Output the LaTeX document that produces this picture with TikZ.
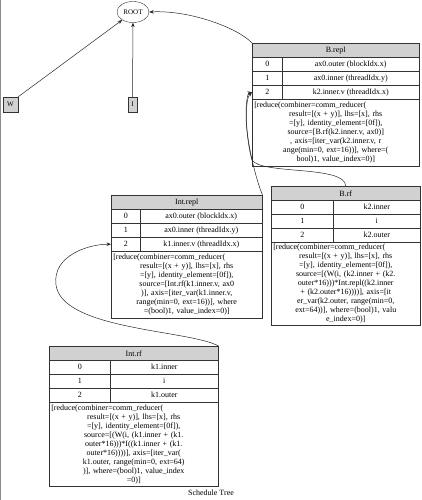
\documentclass[tikz,border=0pt]{standalone}
\usepackage{fontspec}
\setmainfont{Liberation Serif}
\usetikzlibrary{arrows.meta,shapes.geometric}
\newcommand\firstln[1]{\hbox to \hsize{#1\hfil}}
\begin{document}
\begin{tikzpicture}[x=1pt,y=-1pt,
  every node/.style={font=\fontsize{8}{9}\selectfont},
  frame/.style={draw=black!80, line width=0.5pt, inner sep=0pt, anchor=north west},
  hdr/.style={frame, fill=black!18, minimum height=14pt},
  cell/.style={frame, minimum height=14pt},
  txt/.style={frame, align=center, inner xsep=2pt, inner ysep=2pt},
  leaf/.style={draw=black!80, fill=black!18, inner sep=0pt, minimum height=15pt, font=\fontsize{7}{8}\selectfont},
  edge/.style={draw=black!85, line width=0.5pt, -{Stealth[length=4.5pt,width=3.5pt]}}]
\useasboundingbox (0,0) rectangle (422,500);
\draw[black!45, line width=1pt] (0.5,0) -- (0.5,500);

% root and leaves
\node[draw=black!80, ellipse, minimum width=32pt, minimum height=21pt, inner sep=0pt, font=\fontsize{7}{8}\selectfont] (root) at (133,12) {ROOT};
\node[leaf, minimum width=15pt] (w) at (10.5,104.5) {W};
\node[leaf, minimum width=9pt] (i) at (132.5,104.5) {I};

% B.repl
\node[hdr, minimum width=167pt] (brepl-h) at (252,43) {B.repl};
\node[cell, minimum width=30pt] (brepl-i0) at (252,57) {0};
\node[cell, minimum width=137pt] (brepl-r0) at (282,57) {ax0.outer (blockIdx.x)};
\node[cell, minimum width=30pt] (brepl-i1) at (252,71) {1};
\node[cell, minimum width=137pt] (brepl-r1) at (282,71) {ax0.inner (threadIdx.y)};
\node[cell, minimum width=30pt] (brepl-i2) at (252,85) {2};
\node[cell, minimum width=137pt] (brepl-r2) at (282,85) {k2.inner.v (threadIdx.x)};
\node[txt, text width=163pt, minimum height=67pt] (brepl-t) at (252,99) {\firstln{[reduce(combiner=comm\_reducer(}\\
result=[(x + y)], lhs=[x], rhs\\
=[y], identity\_element=[0f]),\\
source=[B.rf(k2.inner.v, ax0)]\\
, axis=[iter\_var(k2.inner.v, r\\
ange(min=0, ext=16))], where=(\\
bool)1, value\_index=0)]};

% B.rf
\node[hdr, minimum width=149pt] (brf-h) at (271,186) {B.rf};
\node[cell, minimum width=62pt] (brf-i0) at (271,200) {0};
\node[cell, minimum width=87pt] (brf-r0) at (333,200) {k2.inner};
\node[cell, minimum width=62pt] (brf-i1) at (271,214) {1};
\node[cell, minimum width=87pt] (brf-r1) at (333,214) {i};
\node[cell, minimum width=62pt] (brf-i2) at (271,228) {2};
\node[cell, minimum width=87pt] (brf-r2) at (333,228) {k2.outer};
\node[txt, text width=145pt, minimum height=83pt] (brf-t) at (271,242) {\firstln{[reduce(combiner=comm\_reducer(}\\
result=[(x + y)], lhs=[x], rhs\\
=[y], identity\_element=[0f]),\\
source=[(W(i, (k2.inner + (k2.\\
outer*16)))*Int.repl((k2.inner\\
+ (k2.outer*16))))], axis=[it\\
er\_var(k2.outer, range(min=0,\\
ext=64))], where=(bool)1, valu\\
e\_index=0)]};

% Int.repl
\node[hdr, minimum width=151pt] (irepl-h) at (111,195) {Int.repl};
\node[cell, minimum width=29pt] (irepl-i0) at (111,209) {0};
\node[cell, minimum width=122pt] (irepl-r0) at (140,209) {ax0.outer (blockIdx.x)};
\node[cell, minimum width=29pt] (irepl-i1) at (111,223) {1};
\node[cell, minimum width=122pt] (irepl-r1) at (140,223) {ax0.inner (threadIdx.y)};
\node[cell, minimum width=29pt] (irepl-i2) at (111,237) {2};
\node[cell, minimum width=122pt] (irepl-r2) at (140,237) {k1.inner.v (threadIdx.x)};
\node[txt, text width=147pt, minimum height=67pt] (irepl-t) at (111,251) {\firstln{[reduce(combiner=comm\_reducer(}\\
result=[(x + y)], lhs=[x], rhs\\
=[y], identity\_element=[0f]),\\
source=[Int.rf(k1.inner.v, ax0\\
)], axis=[iter\_var(k1.inner.v,\\
range(min=0, ext=16))], where\\
=(bool)1, value\_index=0)]};

% Int.rf
\node[hdr, minimum width=169pt] (irf-h) at (49,346) {Int.rf};
\node[cell, minimum width=61pt] (irf-i0) at (49,360) {0};
\node[cell, minimum width=108pt] (irf-r0) at (110,360) {k1.inner};
\node[cell, minimum width=61pt] (irf-i1) at (49,374) {1};
\node[cell, minimum width=108pt] (irf-r1) at (110,374) {i};
\node[cell, minimum width=61pt] (irf-i2) at (49,388) {2};
\node[cell, minimum width=108pt] (irf-r2) at (110,388) {k1.outer};
\node[txt, text width=165pt, minimum height=84pt] (irf-t) at (49,402) {\firstln{[reduce(combiner=comm\_reducer(}\\
result=[(x + y)], lhs=[x], rhs\\
=[y], identity\_element=[0f]),\\
source=[(W(i, (k1.inner + (k1.\\
outer*16)))*I((k1.inner + (k1.\\
outer*16))))], axis=[iter\_var(\\
k1.outer, range(min=0, ext=64)\\
)], where=(bool)1, value\_index\\
=0)]};

\node (cap) at (211,493) {Schedule Tree};

% edges
\draw[edge] (w.north east) -- (root);
\draw[edge] (i) -- (root);
\draw[edge] (brepl-h.north west) .. controls (238,28) and (190,10) .. (root.east);
\draw[edge] (brf-h.north) .. controls (345,165) and (262,175) .. (252,160) .. controls (246,140) and (244,100) .. (brepl-i2.west);
\draw[edge] (irepl-h.north east) .. controls (256,180) and (246,140) .. (246,115) .. controls (246,100) and (248,93) .. (brepl-i2.west);
\draw[edge] (irf-h.north east) .. controls (190,330) and (62,330) .. (56,285) .. controls (52,255) and (90,244) .. (irepl-i2.west);
\end{tikzpicture}
\end{document}
